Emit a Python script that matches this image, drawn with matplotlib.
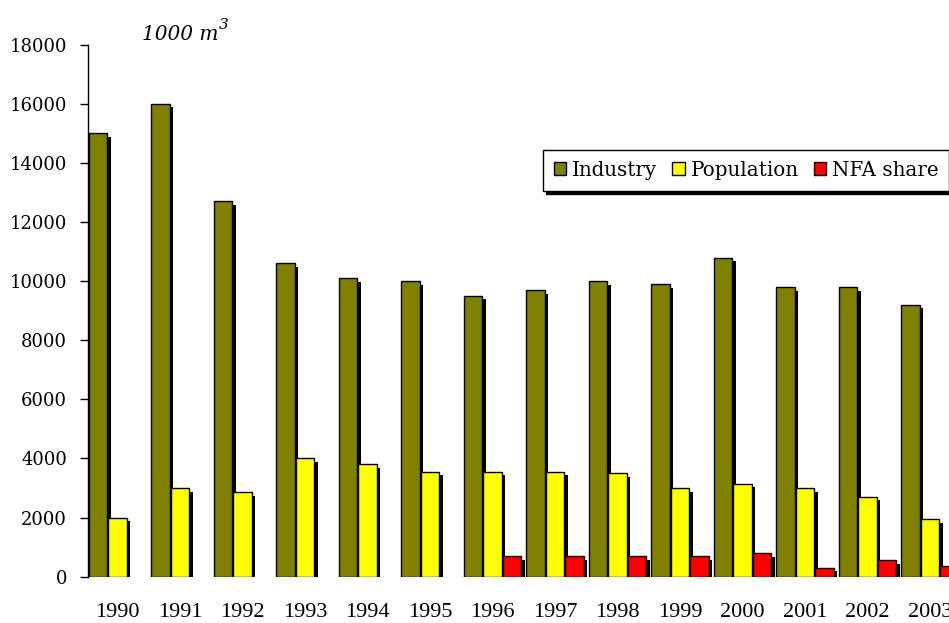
import matplotlib
matplotlib.use("Agg")
import matplotlib.pyplot as plt
from matplotlib.patches import Patch
import numpy as np

years = ["1990", "1991", "1992", "1993", "1994", "1995", "1996",
         "1997", "1998", "1999", "2000", "2001", "2002", "2003"]
industry = [15000, 16000, 12700, 10600, 10100, 10000, 9500,
            9700, 10000, 9900, 10800, 9800, 9800, 9200]
population = [2000, 3000, 2850, 4000, 3800, 3550, 3550,
              3550, 3500, 3000, 3150, 3000, 2700, 1950]
nfa_share = [0, 0, 0, 0, 0, 0, 700,
             700, 700, 700, 800, 300, 550, 350]
series_names = ["Industry", "Population", "NFA share"]
colors = ["#808000", "#FFFF00", "#FF0000"]
yticks = [0, 2000, 4000, 6000, 8000, 10000, 12000, 14000, 16000, 18000]

W, H = 949, 623
fig = plt.figure(figsize=(W / 100, H / 100), dpi=100)
fig.patch.set_facecolor("white")

ax_left_px, ax_bottom_px, ax_top_px = 88, 576.7, 44.7
group_px = 62.5
x0_px = 117.5
xmin = -(x0_px - ax_left_px) / group_px
xmax = 13.5
ax_w_px = (xmax - xmin) * group_px
ax = fig.add_axes([ax_left_px / W, (H - ax_bottom_px) / H,
                   ax_w_px / W, (ax_bottom_px - ax_top_px) / H])
ax.set_xlim(xmin, xmax)
ax.set_ylim(0, 18000)

x = np.arange(len(years))
pitch = 0.312
bw = 0.295
dx = 3.5 / group_px
dy = 3.5 * 18000 / (ax_bottom_px - ax_top_px)

data = [industry, population, nfa_share]
for k, (vals, col) in enumerate(zip(data, colors)):
    xs = x + (k - 1) * pitch
    v = np.array(vals, dtype=float)
    mask = v > 0
    ax.bar(xs[mask] + dx, v[mask], width=bw, bottom=-dy, color="black",
           edgecolor="black", linewidth=0, zorder=2 * k + 2)
    ax.bar(xs[mask], v[mask], width=bw, color=col, edgecolor="black",
           linewidth=1.0, zorder=2 * k + 3)

for s in ["top", "right", "bottom"]:
    ax.spines[s].set_visible(False)
ax.spines["left"].set_linewidth(1.0)
ax.spines["left"].set_zorder(20)

ax.set_yticks(yticks)
ax.set_yticklabels([str(t) for t in yticks], fontfamily="DejaVu Serif",
                   fontsize=13)
ax.tick_params(axis="y", direction="out", length=6, width=1, pad=9)

ax.set_xticks(x)
ax.set_xticklabels(years, fontfamily="Liberation Serif", fontsize=16)
ax.tick_params(axis="x", length=0, pad=19)

fig.text(142 / W, 1 - 40 / H, "1000 m", fontsize=14.5, fontfamily="DejaVu Serif",
         fontstyle="italic", va="baseline", ha="left")
fig.text(219 / W, 1 - 29 / H, "3", fontsize=11, fontfamily="DejaVu Serif",
         fontstyle="italic", va="baseline", ha="left")

handles = [Patch(facecolor=c, edgecolor="black", linewidth=1.0) for c in colors]
leg = fig.legend(handles, series_names, loc="upper left",
                 bbox_to_anchor=(543 / W, 1 - 150 / H), ncol=3,
                 prop={"family": "DejaVu Serif", "size": 14.3},
                 frameon=True, fancybox=False, borderaxespad=0,
                 handlelength=0.62, handleheight=0.62, handletextpad=0.3,
                 columnspacing=0.75, borderpad=0.55,
                 shadow={"color": "black", "alpha": 1.0})
leg.get_frame().set_edgecolor("black")
leg.get_frame().set_linewidth(1.0)
leg.get_frame().set_alpha(1.0)

fig.savefig("out.png", dpi=100, facecolor="white")
